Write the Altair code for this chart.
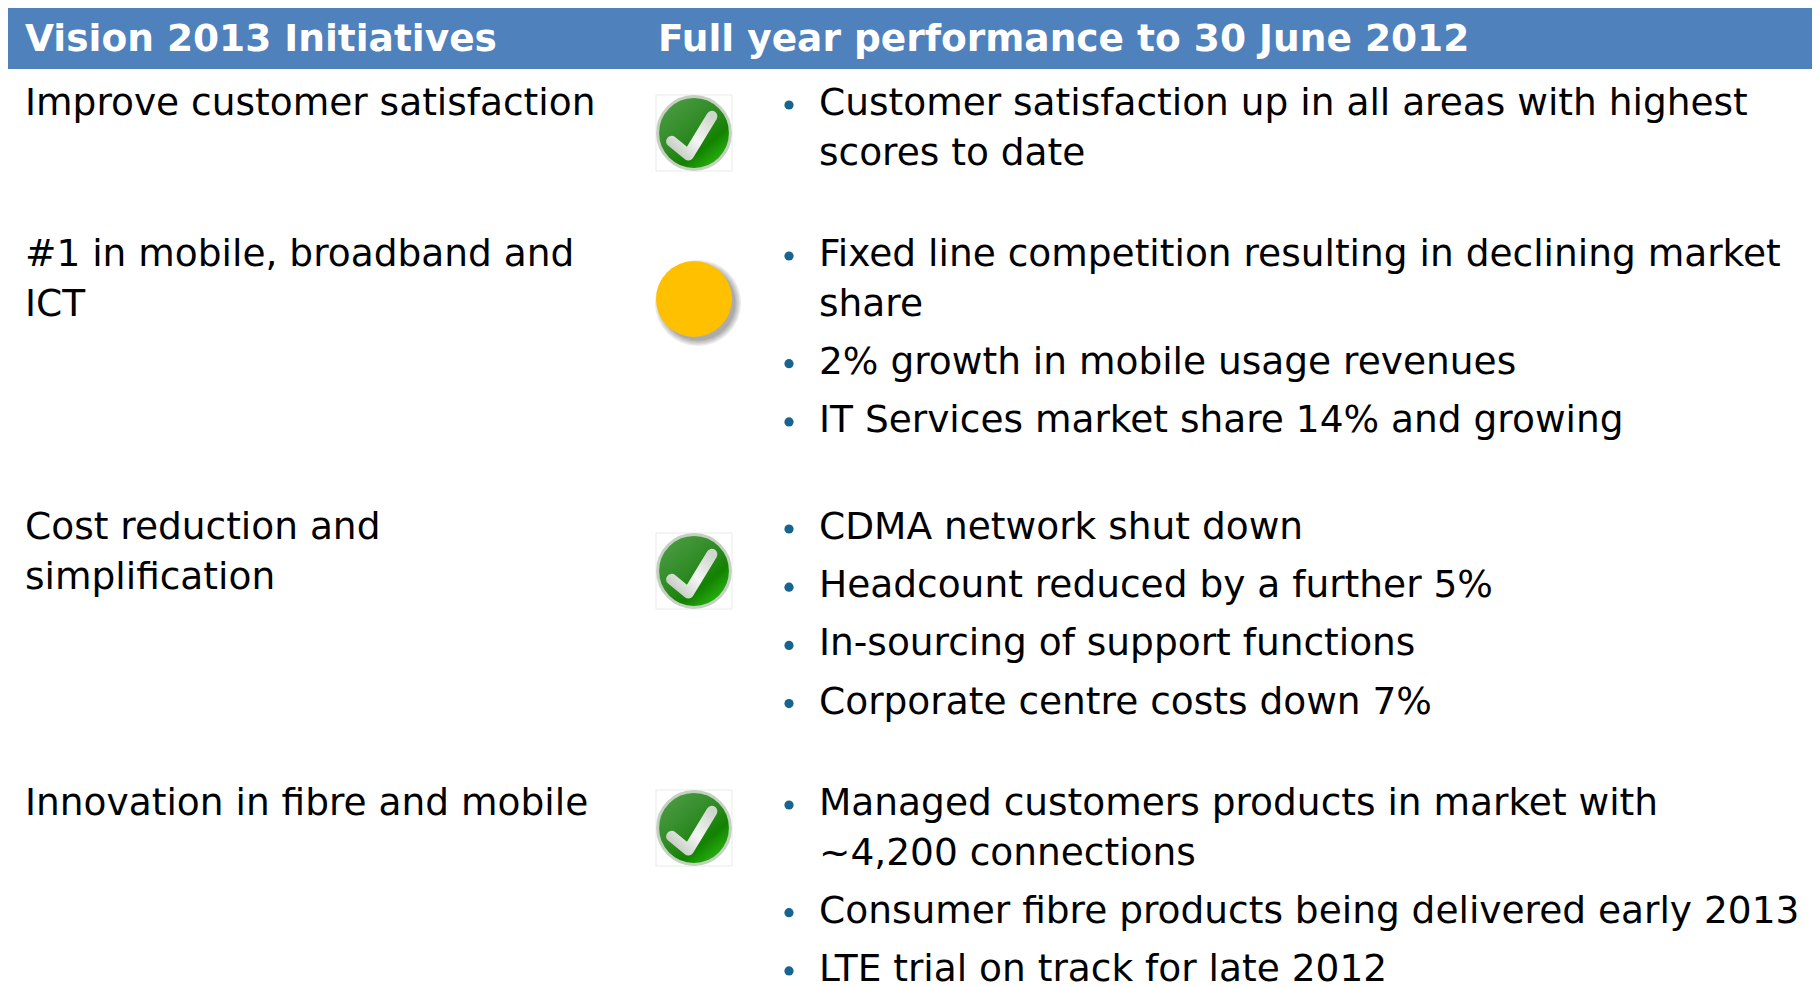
import altair as alt
import pandas as pd

HEADERS = ["Vision 2013 Initiatives", "Full year performance to 30 June 2012"]
INITIATIVES = [
    ["Improve customer satisfaction"],
    ["#1 in mobile, broadband and", "ICT"],
    ["Cost reduction and", "simplification"],
    ["Innovation in fibre and mobile"],
]
STATUS = ["done", "partial", "done", "done"]
BULLETS = [
    [["Customer satisfaction up in all areas with highest", "scores to date"]],
    [["Fixed line competition resulting in declining market", "share"],
     ["2% growth in mobile usage revenues"],
     ["IT Services market share 14% and growing"]],
    [["CDMA network shut down"],
     ["Headcount reduced by a further 5%"],
     ["In-sourcing of support functions"],
     ["Corporate centre costs down 7%"]],
    [["Managed customers products in market with", "~4,200 connections"],
     ["Consumer fibre products being delivered early 2013"],
     ["LTE trial on track for late 2012"]],
]

# layout of the table, in picture pixels
W, H = 1804, 978
ROW_Y = [104, 255, 528, 804]
ICON_Y = [133, 299, 571, 828]
LINE_GAP, BULLET_GAP = 49.5, 58.2
LEFT_X, TICK_X, BULLET_X, BODY_X, HEAD_X2 = 25, 694, 789, 819, 658

left, body, dots = [], [], []
for r, lines in enumerate(INITIATIVES):
    for i, t in enumerate(lines):
        left.append({"x": LEFT_X, "y": ROW_Y[r] + i * LINE_GAP, "t": t})
for r, items in enumerate(BULLETS):
    y = ROW_Y[r]
    for item in items:
        dots.append({"x": BULLET_X, "y": y + 1})
        for i, t in enumerate(item):
            body.append({"x": BODY_X, "y": y + i * LINE_GAP, "t": t})
        y += (len(item) - 1) * LINE_GAP + BULLET_GAP

xs = alt.X("x:Q", scale=alt.Scale(domain=[8, 8 + W], nice=False, zero=False), axis=None)
ys = alt.Y("y:Q", scale=alt.Scale(domain=[8 + H, 8], nice=False, zero=False), axis=None)
x2, y2 = alt.X2("x2:Q"), alt.Y2("y2:Q")
FONT = "DejaVu Sans"

band = alt.Chart(pd.DataFrame([{"x": 8, "x2": 8 + W, "y": 8, "y2": 69}])).mark_rect(
    color="#4f81bd").encode(x=xs, x2=x2, y=ys, y2=y2)
head = alt.Chart(pd.DataFrame([
    {"x": LEFT_X, "y": 39.5, "t": HEADERS[0]}, {"x": HEAD_X2, "y": 39.5, "t": HEADERS[1]}
])).mark_text(align="left", baseline="middle", font=FONT, fontSize=37.5, fontWeight="bold",
              color="white").encode(x=xs, y=ys, text="t:N")


def text_layer(rows):
    return alt.Chart(pd.DataFrame(rows)).mark_text(
        align="left", baseline="middle", font=FONT, fontSize=37.5, color="black"
    ).encode(x=xs, y=ys, text="t:N")


dot_layer = alt.Chart(pd.DataFrame(dots)).mark_circle(size=85, color="#17648f", opacity=1).encode(x=xs, y=ys)

ok = pd.DataFrame([{"x": TICK_X, "y": ICON_Y[i]} for i, s in enumerate(STATUS) if s == "done"])
warn = pd.DataFrame([{"x": TICK_X, "y": ICON_Y[i]} for i, s in enumerate(STATUS) if s == "partial"])

GREEN = alt.Gradient(gradient="linear", x1=0.15, y1=0.1, x2=0.85, y2=0.95, stops=[
    alt.GradientStop(color="#4a9a42", offset=0), alt.GradientStop(color="#2d8a22", offset=0.45),
    alt.GradientStop(color="#128200", offset=0.7), alt.GradientStop(color="#2dbb14", offset=1)])
CHECK = alt.Gradient(gradient="linear", x1=0, y1=1, x2=1, y2=0, stops=[
    alt.GradientStop(color="#bfc6bd", offset=0), alt.GradientStop(color="#f4f6f3", offset=0.5),
    alt.GradientStop(color="#cfd6cc", offset=1)])

square = alt.Chart(ok).mark_point(shape="square", size=5776, filled=True, fill="#ffffff",
                                  stroke="#e6ebe6", strokeWidth=1, opacity=1).encode(x=xs, y=ys)
disc = alt.Chart(ok).mark_point(shape="circle", size=5300, filled=True, fill=GREEN,
                                stroke="#c4d0c0", strokeWidth=3, opacity=1).encode(x=xs, y=ys)
tick = alt.Chart(ok).mark_point(shape="M-.59,.22L-.15,.58L.47,-.44", size=5776, filled=False,
                                stroke=CHECK, strokeWidth=11, strokeCap="round", strokeJoin="round",
                                opacity=1).encode(x=xs, y=ys)

shadow_df = warn.assign(x=warn.x + 4, y=warn.y + 4)
shadows = [alt.Chart(shadow_df).mark_circle(size=s, color="#555555", opacity=0.12).encode(x=xs, y=ys)
           for s in (7396, 6889, 6400, 5929, 5625)]
amber = alt.Chart(warn).mark_circle(size=5776, color="#ffc000", opacity=1).encode(x=xs, y=ys)

chart = alt.layer(band, head, text_layer(left), square, disc, tick, *shadows, amber,
                  dot_layer, text_layer(body)).properties(
    width=W, height=H, padding=0, autosize=alt.AutoSizeParams(type="none")
).configure_view(stroke=None)

chart.save("out.html", embed_options={"renderer": "svg", "actions": False})
